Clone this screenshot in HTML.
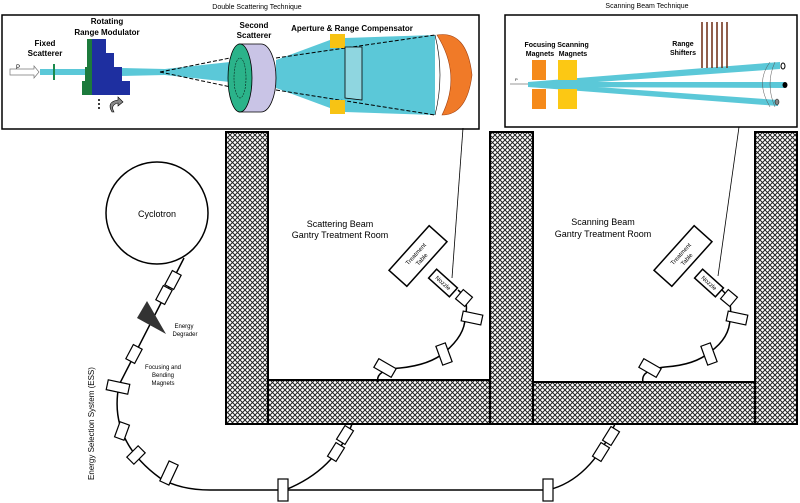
<!DOCTYPE html>
<html><head><meta charset="utf-8"><style>
html,body{margin:0;padding:0;background:#fff;}
svg{display:block;font-family:"Liberation Sans",sans-serif;}
</style></head><body>
<svg width="800" height="503" viewBox="0 0 800 503" xmlns="http://www.w3.org/2000/svg">
<defs>
<pattern id="h" width="5" height="5" patternUnits="userSpaceOnUse">
<rect width="5" height="5" fill="#fff"/>
<path d="M0,0L5,5M5,0L0,5" stroke="#222" stroke-width="1"/>
</pattern>
</defs>
<!-- walls -->
<g stroke="#000" stroke-width="2" fill="url(#h)">
<rect x="226" y="132" width="42" height="292"/>
<rect x="268" y="380" width="222" height="44"/>
<rect x="490" y="132" width="43" height="292"/>
<rect x="533" y="382" width="222" height="42"/>
<rect x="755" y="132" width="42" height="292"/>
</g>
<!-- top insets -->
<text x="257" y="9" font-size="7" text-anchor="middle">Double Scattering Technique</text>
<rect x="2" y="15" width="477" height="114" fill="#fff" stroke="#000" stroke-width="1.5"/>
<text x="647" y="8" font-size="7" text-anchor="middle">Scanning Beam Technique</text>
<rect x="505" y="15" width="292" height="112" fill="#fff" stroke="#000" stroke-width="1.5"/>
<!-- left inset contents -->
<path d="M10,69h24v-3l5,6l-5,6v-3h-24z" fill="#fff" stroke="#777" stroke-width="0.7"/>
<text x="16" y="69" font-size="6">P</text>
<rect x="40" y="69" width="125" height="6" fill="#5bc8d8"/>
<polygon points="120,68 165,69 230,62 230,82 165,75 120,76" fill="#5bc8d8"/>
<rect x="53" y="64" width="2" height="16" fill="#1c8a4c"/>
<text x="45" y="46" font-size="8" font-weight="bold" text-anchor="middle">Fixed</text>
<text x="45" y="56" font-size="8" font-weight="bold" text-anchor="middle">Scatterer</text>
<text x="107" y="24" font-size="8" font-weight="bold" text-anchor="middle">Rotating</text>
<text x="107" y="35" font-size="8" font-weight="bold" text-anchor="middle">Range Modulator</text>
<path d="M87,39h19v14h8v14h8v14h8v14h-48v-14h3v-14h2z" fill="#1e2fa0"/>
<path d="M87,39h5v56h-10v-14h3v-14h2z" fill="#1c7a3c"/>
<circle cx="99" cy="100" r="1" fill="#000"/><circle cx="99" cy="104" r="1" fill="#000"/><circle cx="99" cy="108" r="1" fill="#000"/>
<path d="M112,112 q-6,-10 6,-12 l0,-3 l5,5 l-5,4 l0,-3 q-8,2 -4,9z" fill="#888" stroke="#000" stroke-width="0.6"/>
<polygon points="276,60 330,40 345,38 435,35 435,115 345,112 330,108 276,88" fill="#5bc8d8"/>
<path d="M160,72L245,55M160,72L245,90M276,58L435,35M276,90L435,115" stroke="#000" stroke-width="1" stroke-dasharray="4,2" fill="none"/>
<path d="M239,44h22a15,34 0 0 1 0,68h-22z" fill="#c9c4e6" stroke="#000" stroke-width="0.8"/>
<ellipse cx="240" cy="78" rx="12" ry="34" fill="#2bb38a" stroke="#000" stroke-width="0.8"/>
<ellipse cx="240" cy="78" rx="6" ry="20" fill="none" stroke="#000" stroke-width="0.5" stroke-dasharray="2,1"/>
<text x="254" y="28" font-size="8" font-weight="bold" text-anchor="middle">Second</text>
<text x="254" y="38" font-size="8" font-weight="bold" text-anchor="middle">Scatterer</text>
<text x="352" y="31" font-size="8" font-weight="bold" text-anchor="middle">Aperture &amp; Range Compensator</text>
<rect x="330" y="34" width="15" height="14" fill="#f7c314"/>
<rect x="330" y="100" width="15" height="14" fill="#f7c314"/>
<polygon points="345,47 362,47 362,100 345,98" fill="#8fd6e0" stroke="#000" stroke-width="0.8"/>
<path d="M435,35 q10,40 0,80" stroke="#000" fill="none" stroke-width="0.6"/>
<path d="M437,35 q30,-5 35,40 q-5,40 -30,40 q20,-40 -5,-80z" fill="#f07a28" stroke="#a04010" stroke-width="0.6"/>
<!-- right inset contents -->
<path d="M510,84h18" stroke="#999" stroke-width="1"/>
<text x="515" y="81" font-size="4">P</text>
<polygon points="528,82 780,62 780,69 528,87" fill="#5bc8d8"/>
<polygon points="528,82 785,82 785,88 528,87" fill="#5bc8d8"/>
<polygon points="528,82 778,100 778,106 528,87" fill="#5bc8d8"/>
<text x="540" y="47" font-size="7" font-weight="bold" text-anchor="middle">Focusing</text>
<text x="540" y="56" font-size="7" font-weight="bold" text-anchor="middle">Magnets</text>
<text x="573" y="47" font-size="7" font-weight="bold" text-anchor="middle">Scanning</text>
<text x="573" y="56" font-size="7" font-weight="bold" text-anchor="middle">Magnets</text>
<rect x="532" y="60" width="14" height="20" fill="#f58a1a"/>
<rect x="532" y="89" width="14" height="20" fill="#f58a1a"/>
<rect x="558" y="60" width="19" height="20" fill="#fcc814"/>
<rect x="558" y="89" width="19" height="20" fill="#fcc814"/>
<text x="683" y="46" font-size="7" font-weight="bold" text-anchor="middle">Range</text>
<text x="683" y="55" font-size="7" font-weight="bold" text-anchor="middle">Shifters</text>
<g stroke="#6b2a10" stroke-width="1.5"><path d="M702,22v46M707,22v46M712,22v46M717,22v46M722,22v46M727,22v46"/></g>
<path d="M770,62 q-15,20 0,45 M775,62 q-10,22 0,45" stroke="#555" fill="none" stroke-width="0.5"/>
<ellipse cx="783" cy="66" rx="2" ry="3" fill="#fff" stroke="#000"/>
<ellipse cx="785" cy="85" rx="2.5" ry="3" fill="#000"/>
<ellipse cx="777" cy="102" rx="2" ry="3" fill="#888" stroke="#000" stroke-width="0.5"/>
<!-- pointer lines -->
<path d="M463,128L452,278" stroke="#000" stroke-width="0.8"/>
<path d="M739,127L718,276" stroke="#000" stroke-width="0.8"/>
<!-- cyclotron -->
<circle cx="157" cy="213" r="51" fill="#fff" stroke="#000" stroke-width="1.5"/>
<text x="157" y="217" font-size="9" text-anchor="middle">Cyclotron</text>
<!-- beamline -->
<g fill="none" stroke="#000" stroke-width="1.5">
<path d="M184,258L119,385 Q108,440 160,478 Q180,490 210,490 L548,490 Q590,480 615,424"/>
<path d="M285,490 Q335,470 352,424"/>
<path d="M378,382 Q375,370 400,368 Q430,365 445,352 Q465,335 465,318 Q470,300 458,290"/>
<path d="M643,382 Q640,370 665,367 Q695,365 710,352 Q730,338 730,318 Q733,300 722,290"/>
</g>
<polygon points="137,318 147,301 166,334" fill="#333"/>
<text x="184" y="328" font-size="6" text-anchor="middle">Energy</text>
<text x="185" y="336" font-size="6" text-anchor="middle">Degrader</text>
<text x="163" y="369" font-size="6" text-anchor="middle">Focusing and</text>
<text x="163" y="377" font-size="6" text-anchor="middle">Bending</text>
<text x="163" y="385" font-size="6" text-anchor="middle">Magnets</text>
<text transform="translate(94,480) rotate(-90)" font-size="8">Energy Selection System (ESS)</text>
<g fill="#fff" stroke="#000" stroke-width="1.2">
<rect x="-8" y="-5" width="16" height="10" transform="translate(173,280) rotate(-62)"/>
<rect x="-8" y="-5" width="16" height="10" transform="translate(164,295) rotate(-62)"/>
<rect x="-8" y="-5" width="16" height="10" transform="translate(134,354) rotate(-62)"/>
<rect x="-11" y="-5" width="22" height="10" transform="translate(118,387) rotate(12)"/>
<rect x="-8" y="-5" width="16" height="10" transform="translate(122,431) rotate(-70)"/>
<rect x="-8" y="-5" width="16" height="10" transform="translate(136,455) rotate(-45)"/>
<rect x="-11" y="-5" width="22" height="10" transform="translate(169,473) rotate(-65)"/>
<rect x="-5" y="-11" width="10" height="22" transform="translate(283,490)"/>
<rect x="-5" y="-11" width="10" height="22" transform="translate(548,490)"/>
<rect x="-8" y="-5" width="16" height="10" transform="translate(345,435) rotate(-58)"/>
<rect x="-8" y="-5" width="16" height="10" transform="translate(336,452) rotate(-58)"/>
<rect x="-8" y="-5" width="16" height="10" transform="translate(611,436) rotate(-58)"/>
<rect x="-8" y="-5" width="16" height="10" transform="translate(601,452) rotate(-58)"/>
<rect x="-10" y="-5" width="20" height="10" transform="translate(385,368) rotate(30)"/>
<rect x="-5" y="-10" width="10" height="20" transform="translate(444,354) rotate(-20)"/>
<rect x="-10" y="-5" width="20" height="10" transform="translate(472,318) rotate(12)"/>
<rect x="-6" y="-6" width="12" height="12" transform="translate(464,298) rotate(-50)"/>
<rect x="-10" y="-5" width="20" height="10" transform="translate(650,368) rotate(30)"/>
<rect x="-5" y="-10" width="10" height="20" transform="translate(709,354) rotate(-20)"/>
<rect x="-10" y="-5" width="20" height="10" transform="translate(737,318) rotate(12)"/>
<rect x="-6" y="-6" width="12" height="12" transform="translate(729,298) rotate(-50)"/>
</g>
<!-- treatment tables -->
<g fill="#fff" stroke="#000" stroke-width="1.5">
<g transform="translate(418,256) rotate(-48)">
<rect x="-30" y="-12" width="60" height="24"/>
<text x="0" y="-1" font-size="6" text-anchor="middle" stroke="none" fill="#000">Treatment</text>
<text x="0" y="7" font-size="6" text-anchor="middle" stroke="none" fill="#000">Table</text>
</g>
<g transform="translate(443,283) rotate(42)">
<rect x="-14" y="-6" width="28" height="12"/>
<text x="0" y="2" font-size="6" text-anchor="middle" stroke="none" fill="#000">Nozzle</text>
</g>
<g transform="translate(683,256) rotate(-48)">
<rect x="-30" y="-12" width="60" height="24"/>
<text x="0" y="-1" font-size="6" text-anchor="middle" stroke="none" fill="#000">Treatment</text>
<text x="0" y="7" font-size="6" text-anchor="middle" stroke="none" fill="#000">Table</text>
</g>
<g transform="translate(709,283) rotate(42)">
<rect x="-14" y="-6" width="28" height="12"/>
<text x="0" y="2" font-size="6" text-anchor="middle" stroke="none" fill="#000">Nozzle</text>
</g>
</g>
<text x="340" y="227" font-size="9" text-anchor="middle">Scattering Beam</text>
<text x="340" y="238" font-size="9" text-anchor="middle">Gantry Treatment Room</text>
<text x="603" y="225" font-size="9" text-anchor="middle">Scanning Beam</text>
<text x="603" y="237" font-size="9" text-anchor="middle">Gantry Treatment Room</text>
</svg>
</body></html>
